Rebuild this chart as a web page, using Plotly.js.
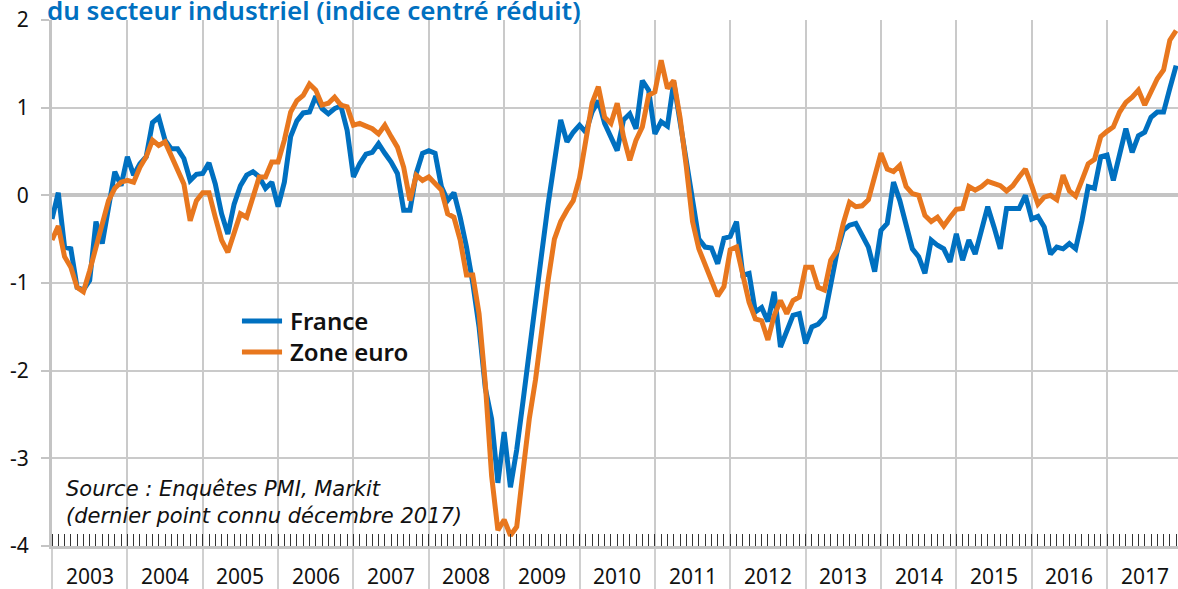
<!DOCTYPE html>
<html><head><meta charset="utf-8">
<script src="https://cdn.plot.ly/plotly-3.0.1.min.js"></script>
<style>html,body{margin:0;padding:0;background:#fff;}#chart{width:1178px;height:589px;}</style>
</head><body><div id="chart"></div>
<script>
const years = [2003,2004,2005,2006,2007,2008,2009,2010,2011,2012,2013,2014,2015,2016,2017];
const seriesNames = ['France', 'Zone euro'];
const titleText = 'du secteur industriel (indice centré réduit)';
const sourceLines = ['Source : Enquêtes PMI, Markit', '(dernier point connu décembre 2017)'];
const yTicks = [-4, -3, -2, -1, 0, 1, 2];

const france = [
  -0.27, 0.03, -0.59, -0.61, -1.05, -1.08, -0.97, -0.30, -0.55, -0.10, 0.27, 0.11,
  0.44, 0.23, 0.36, 0.44, 0.83, 0.89, 0.63, 0.53, 0.53, 0.42, 0.17, 0.24,
  0.25, 0.37, 0.13, -0.21, -0.44, -0.10, 0.11, 0.23, 0.27, 0.21, 0.08, 0.15,
  -0.13, 0.15, 0.67, 0.85, 0.94, 0.95, 1.13, 0.99, 0.93, 0.99, 1.02, 0.74,
  0.21, 0.36, 0.47, 0.49, 0.59, 0.48, 0.38, 0.25, -0.17, -0.17, 0.25, 0.48,
  0.51, 0.48, 0.10, -0.06, 0.03, -0.25, -0.59, -1.00, -1.50, -2.20, -2.55, -3.28,
  -2.70, -3.33, -2.90, -2.35, -1.75, -1.20, -0.65, -0.10, 0.40, 0.86, 0.61, 0.72,
  0.80, 0.72, 0.95, 1.08, 0.82, 0.67, 0.51, 0.86, 0.93, 0.76, 1.31, 1.20,
  0.70, 0.84, 0.79, 1.29, 0.86, 0.40, -0.02, -0.50, -0.59, -0.60, -0.78, -0.49,
  -0.47, -0.30, -0.91, -0.89, -1.33, -1.28, -1.44, -1.10, -1.73, -1.54, -1.37, -1.35,
  -1.69, -1.50, -1.47, -1.39, -1.05, -0.65, -0.40, -0.34, -0.32, -0.45, -0.59, -0.87,
  -0.40, -0.32, 0.15, -0.06, -0.36, -0.61, -0.70, -0.89, -0.51, -0.57, -0.61, -0.76,
  -0.44, -0.74, -0.51, -0.67, -0.40, -0.13, -0.36, -0.61, -0.15, -0.15, -0.15, 0.00,
  -0.27, -0.24, -0.36, -0.67, -0.59, -0.61, -0.55, -0.61, -0.29, 0.10, 0.08, 0.44,
  0.46, 0.17, 0.44, 0.76, 0.49, 0.68, 0.72, 0.89, 0.95, 0.95, 1.22, 1.48
];

const zoneEuro = [
  -0.51, -0.35, -0.70, -0.82, -1.05, -1.10, -0.86, -0.59, -0.36, -0.06, 0.08, 0.15,
  0.17, 0.15, 0.32, 0.44, 0.63, 0.57, 0.61, 0.44, 0.29, 0.13, -0.29, -0.06,
  0.03, 0.03, -0.25, -0.51, -0.65, -0.44, -0.21, -0.25, -0.02, 0.21, 0.21, 0.38,
  0.38, 0.63, 0.95, 1.08, 1.14, 1.27, 1.20, 1.03, 1.05, 1.12, 1.03, 1.01,
  0.80, 0.82, 0.79, 0.76, 0.70, 0.80, 0.67, 0.55, 0.32, -0.06, 0.23, 0.17,
  0.21, 0.13, 0.06, -0.21, -0.25, -0.51, -0.91, -0.91, -1.35, -2.15, -3.20, -3.82,
  -3.70, -3.88, -3.78, -3.15, -2.55, -2.10, -1.50, -0.97, -0.50, -0.30, -0.17, -0.06,
  0.20, 0.65, 1.05, 1.24, 0.89, 0.82, 1.05, 0.67, 0.40, 0.63, 0.78, 1.14,
  1.18, 1.54, 1.22, 1.31, 0.89, 0.33, -0.30, -0.61, -0.80, -0.98, -1.15, -1.04,
  -0.62, -0.59, -0.88, -1.22, -1.41, -1.43, -1.65, -1.37, -1.20, -1.35, -1.20, -1.16,
  -0.82, -0.82, -1.05, -1.08, -0.74, -0.63, -0.32, -0.08, -0.13, -0.12, -0.05, 0.20,
  0.48, 0.30, 0.27, 0.34, 0.10, 0.02, 0.00, -0.23, -0.30, -0.25, -0.35, -0.25,
  -0.16, -0.15, 0.10, 0.06, 0.10, 0.16, 0.14, 0.11, 0.05, 0.11, 0.21, 0.30,
  0.11, -0.10, -0.02, 0.00, -0.05, 0.23, 0.05, -0.01, 0.17, 0.36, 0.41, 0.67,
  0.73, 0.78, 0.95, 1.06, 1.12, 1.20, 1.03, 1.18, 1.33, 1.43, 1.77, 1.88
];

// month index (0 = janvier 2003)
const monthIndex = france.map((_, i) => i);

const FONT = '"Noto Sans", Lato, sans-serif';
const SOURCE_FONT = '"DejaVu Sans", "Noto Sans", sans-serif';
const BLUE = '#0070C0';
const ORANGE = '#E8771E';
const GRID = '#cacaca';
const seriesColors = [BLUE, ORANGE];

const traces = [
  { x: monthIndex, y: france, name: seriesNames[0], type: 'scatter', mode: 'lines',
    line: { color: BLUE, width: 5 } },
  { x: monthIndex, y: zoneEuro, name: seriesNames[1], type: 'scatter', mode: 'lines',
    line: { color: ORANGE, width: 5 } }
];

const annotations = years.map((yr, k) => ({
  x: k * 12 + 6, xref: 'x', y: -0.057, yref: 'paper',
  text: String(yr), showarrow: false, xanchor: 'center', yanchor: 'middle',
  font: { family: FONT, size: 21, color: '#111' }
}));
annotations.push({
  x: 0, xref: 'paper', xshift: -7, y: 1, yref: 'paper', yshift: 10,
  text: titleText, showarrow: false, xanchor: 'left', yanchor: 'middle',
  font: { family: FONT, size: 26, color: BLUE, weight: 600 }
});
annotations.push({
  x: 0.011, xref: 'paper', y: 0.083, yref: 'paper',
  text: '<i>' + sourceLines.join('<br>') + '</i>', showarrow: false,
  xanchor: 'left', yanchor: 'middle', align: 'left',
  font: { family: SOURCE_FONT, size: 21, color: '#111' }
});

// hand-placed legend: line samples + one two-line label block
const legendLineY = [0.4279, 0.3686];
const shapes = [
  { type: 'rect', xref: 'paper', yref: 'paper', layer: 'between',
    x0: 0.003, x1: 0.372, y0: 0, y1: 0.150, fillcolor: '#fff', line: { width: 0 } },
  { type: 'rect', xref: 'paper', yref: 'paper', layer: 'between',
    x0: 0.1643, x1: 0.3162, y0: 0.3308, y1: 0.4696, fillcolor: '#fff', line: { width: 0 } }
];
seriesNames.forEach((name, i) => {
  shapes.push({ type: 'line', xref: 'paper', yref: 'paper', layer: 'above',
    x0: 0.1687, x1: 0.2043, y0: legendLineY[i], y1: legendLineY[i],
    line: { color: seriesColors[i], width: 5 } });
});
annotations.push({ x: 0.2096, xref: 'paper', y: 0.3983, yref: 'paper',
  text: seriesNames.join('<br>'), showarrow: false, xanchor: 'left', yanchor: 'middle',
  align: 'left', font: { family: FONT, size: 24, color: '#111', weight: 600 } });

const layout = {
  width: 1178, height: 589,
  margin: { l: 52, r: 0, t: 20, b: 43, pad: 0 },
  paper_bgcolor: '#fff', plot_bgcolor: '#fff',
  showlegend: false,
  xaxis: {
    range: [0, 179.3], tickmode: 'linear', tick0: 0, dtick: 12,
    showgrid: true, gridcolor: GRID, gridwidth: 2,
    zeroline: false, showline: true, linecolor: '#c4c4c4', linewidth: 3,
    ticks: 'outside', ticklen: 43, tickcolor: '#d0d0d0', tickwidth: 2,
    showticklabels: false,
    minor: { tickmode: 'linear', tick0: 0, dtick: 1, ticks: 'inside', ticklen: 12,
             tickcolor: '#333', tickwidth: 1, showgrid: false }
  },
  yaxis: {
    range: [-4, 2], tickmode: 'array', tickvals: yTicks, ticktext: yTicks.map(String),
    showgrid: true, gridcolor: GRID, gridwidth: 2,
    zeroline: true, zerolinecolor: '#c4c4c4', zerolinewidth: 4,
    showline: true, linecolor: '#c4c4c4', linewidth: 3,
    ticks: 'outside', ticklen: 8, tickcolor: '#c4c4c4', tickwidth: 2,
    ticklabelstandoff: 8,
    tickfont: { family: FONT, size: 21, color: '#111' }
  },
  shapes: shapes,
  annotations: annotations
};

Plotly.newPlot('chart', traces, layout, { displayModeBar: false, staticPlot: true });
</script>
</body></html>
